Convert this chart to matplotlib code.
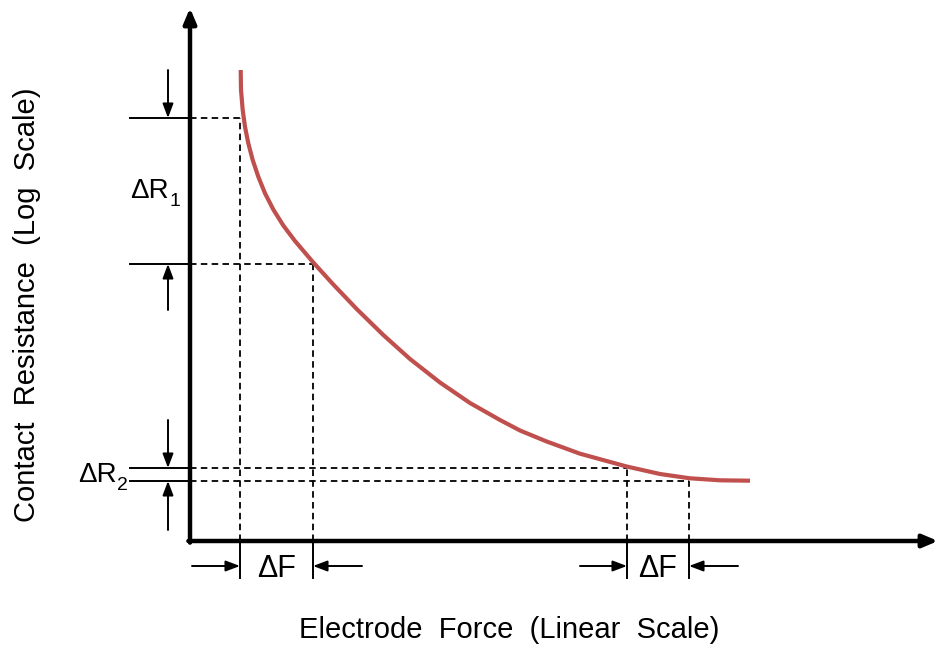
import matplotlib
matplotlib.use("Agg")
import matplotlib.pyplot as plt

plt.rcParams['font.family'] = ['Liberation Sans', 'DejaVu Sans']

# Resistance-force curve (force to the right, log resistance upward)
curve_force = [50.7, 51, 52.7, 55, 58.3, 62.7, 68.3, 75, 83.3, 93.3, 105, 123.3, 143.3,
               166.7, 193.3, 220, 250, 280, 310, 330, 356.7, 390, 436.7, 470, 500, 530, 560]
curve_res = [471, 451, 431, 414.3, 397.7, 381, 364.3, 347.7, 331.5, 315.5, 300, 278.5, 256.5,
             232, 206, 182, 158.5, 138, 121, 110.5, 99.5, 87.3, 74.5, 67, 62.7, 60.7, 60.3]

# Force pairs marked on the curve and the matching resistance levels
force_low = [50, 123]
res_low = [423, 277]
force_high = [437, 499]
res_high = [73, 60]

fig = plt.figure(figsize=(9.38, 6.48), dpi=100)
ax = fig.add_axes([0, 0, 1, 1])
ax.set_xlim(-190, 748)
ax.set_ylim(-107, 541)
ax.axis('off')

red = '#C0504D'
ax.plot(curve_force, curve_res, color=red, lw=3.0, solid_capstyle='butt',
        solid_joinstyle='round', zorder=3)

# Axes with arrow heads
axis_kw = dict(arrowstyle='-|>,head_length=0.9,head_width=0.38', lw=3.2, color='black',
               shrinkA=0, shrinkB=0)
ax.annotate('', xy=(0, 533), xytext=(0, -1.6), arrowprops=axis_kw)
ax.annotate('', xy=(748, 0), xytext=(-1.6, 0), arrowprops=axis_kw)

dash = dict(color='black', lw=1.3, ls=(0, (3.6, 2.4)))
solid = dict(color='black', lw=1.4)

for fs, rs in ((force_low, res_low), (force_high, res_high)):
    for f, r in zip(fs, rs):
        ax.plot([0, f], [r, r], **dash)
        ax.plot([f, f], [0, r], **dash)
        ax.plot([-60, 0], [r, r], **solid)
        ax.plot([f, f], [0, -37], **solid)

arr_kw = dict(arrowstyle='-|>,head_length=0.85,head_width=0.32', lw=1.4, color='black',
              shrinkA=0, shrinkB=0)

# Resistance span arrows
ax.annotate('', xy=(-22, res_low[0]), xytext=(-22, 471), arrowprops=arr_kw)
ax.annotate('', xy=(-22, res_low[1]), xytext=(-22, 231), arrowprops=arr_kw)
ax.annotate('', xy=(-22, res_high[0]), xytext=(-22, 121), arrowprops=arr_kw)
ax.annotate('', xy=(-22, res_high[1]), xytext=(-22, 11), arrowprops=arr_kw)

# Force span arrows
ax.annotate('', xy=(force_low[0], -25), xytext=(2, -25), arrowprops=arr_kw)
ax.annotate('', xy=(force_low[1], -25), xytext=(172, -25), arrowprops=arr_kw)
ax.annotate('', xy=(force_high[0], -25), xytext=(390, -25), arrowprops=arr_kw)
ax.annotate('', xy=(force_high[1], -25), xytext=(548, -25), arrowprops=arr_kw)

renderer = fig.canvas.get_renderer()


def delta_r(x, y, sub, align='left'):
    """Draw 'ΔR' with a large subscript; x is the left or right edge, y the baseline."""
    main = ax.text(x, y, 'ΔR', fontsize=20, ha='left', va='baseline')
    subt = ax.text(x, y, sub, fontsize=14, ha='left', va='baseline')
    w_main = main.get_window_extent(renderer).width * 72 / fig.dpi
    w_sub = subt.get_window_extent(renderer).width * 72 / fig.dpi
    subt.remove()
    shift = 0.0
    if align == 'right':
        shift = -(w_main + w_sub + 0.5)
        main.remove()
        ax.annotate('ΔR', xy=(x, y), xytext=(shift, 0), textcoords='offset points',
                    fontsize=20, ha='left', va='baseline')
    ax.annotate(sub, xy=(x, y), xytext=(shift + w_main + 0.5, -6), textcoords='offset points',
                fontsize=14, ha='left', va='baseline')


delta_r(-60, 343, '1')
delta_r(-62, 59, '2', align='right')

ax.text((force_low[0] + force_low[1]) / 2, -28, 'ΔF', fontsize=22, ha='center', va='center')
ax.text((force_high[0] + force_high[1]) / 2, -28, 'ΔF', fontsize=22, ha='center', va='center')

ax.text(319.5, -89, 'Electrode  Force  (Linear  Scale)', fontsize=21, ha='center', va='center')
ax.text(-163, 236, 'Contact  Resistance  (Log  Scale)', fontsize=21, ha='center', va='center',
        rotation=90)

fig.savefig('out.png', dpi=100)
